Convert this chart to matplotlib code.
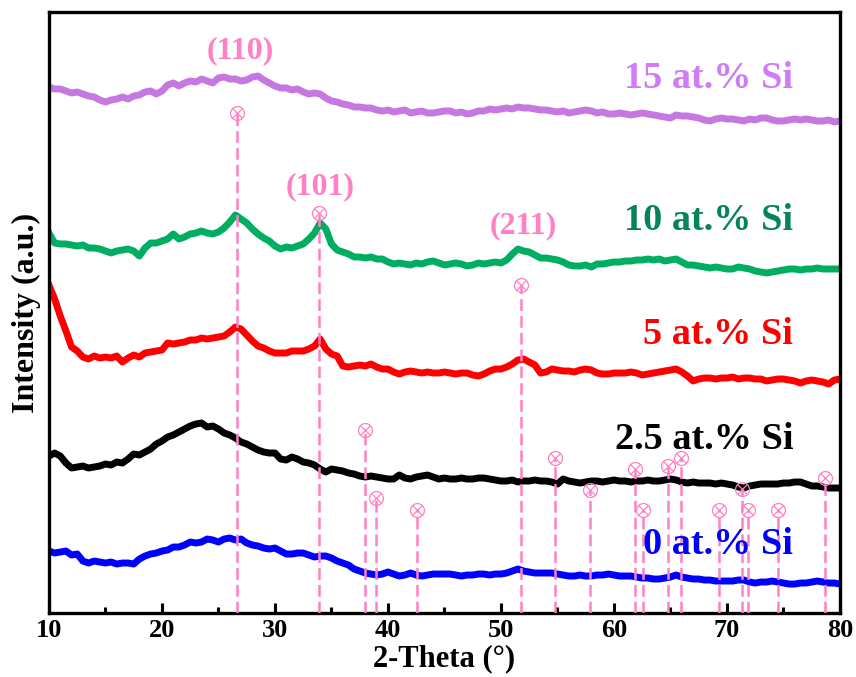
import numpy as np
import matplotlib
matplotlib.use("Agg")
from matplotlib import pyplot as plt

# 2-theta grid, 0.5 degree steps from 10 to 80
two_theta = np.arange(10, 80.001, 0.5)

# intensities (a.u.), stacked
si_15 = [526, 524, 524, 522, 520, 521, 519, 517, 516, 513,
         511, 513, 514, 516, 514, 517, 518, 521, 522, 519,
         522, 528, 530, 527, 530, 532, 531, 534, 532, 530,
         535, 536, 534, 534, 532, 533, 536, 537, 533, 530,
         527, 525, 525, 523, 524, 521, 519, 520, 519, 515,
         512, 511, 509, 508, 506, 506, 505, 505, 503, 502,
         503, 501, 502, 503, 500, 501, 502, 500, 500, 501,
         502, 502, 500, 501, 499, 500, 502, 502, 504, 503,
         504, 505, 504, 506, 505, 505, 504, 503, 503, 502,
         501, 502, 500, 501, 502, 503, 502, 500, 501, 499,
         499, 500, 499, 498, 499, 500, 499, 498, 497, 496,
         495, 498, 497, 497, 496, 495, 493, 492, 494, 495,
         494, 494, 493, 492, 494, 493, 495, 495, 493, 492,
         492, 493, 494, 493, 494, 493, 492, 492, 493, 491,
         492]
si_10 = [380, 370, 369, 369, 368, 367, 368, 365, 365, 364,
         362, 360, 362, 363, 364, 362, 357, 365, 370, 370,
         372, 374, 379, 374, 376, 379, 380, 382, 380, 379,
         381, 385, 391, 398, 394, 390, 384, 379, 375, 372,
         367, 364, 366, 365, 367, 369, 374, 380, 390, 384,
         369, 363, 361, 359, 356, 356, 355, 356, 354, 354,
         351, 349, 350, 349, 348, 350, 349, 351, 352, 350,
         348, 349, 350, 349, 347, 348, 350, 349, 350, 351,
         350, 353, 359, 364, 362, 361, 358, 355, 355, 354,
         353, 351, 348, 347, 347, 348, 346, 349, 349, 350,
         351, 351, 352, 352, 353, 353, 354, 353, 354, 352,
         353, 354, 351, 348, 348, 347, 346, 345, 346, 345,
         344, 344, 346, 345, 344, 342, 341, 340, 341, 342,
         343, 344, 344, 343, 344, 344, 345, 344, 344, 344,
         344]
si_5 = [328, 314, 297, 282, 266, 262, 256, 254, 257, 255,
        256, 255, 257, 251, 255, 258, 256, 260, 261, 262,
        263, 270, 269, 270, 271, 273, 273, 275, 274, 275,
        276, 277, 281, 286, 284, 278, 272, 267, 265, 262,
        260, 260, 260, 262, 262, 262, 264, 267, 274, 264,
        259, 257, 247, 246, 247, 248, 247, 249, 246, 244,
        244, 241, 239, 241, 242, 241, 240, 241, 240, 240,
        241, 240, 239, 240, 240, 238, 237, 239, 242, 244,
        244, 246, 249, 253, 254, 251, 248, 240, 241, 244,
        243, 242, 242, 241, 243, 244, 243, 240, 239, 239,
        240, 240, 240, 241, 240, 238, 239, 240, 241, 242,
        243, 244, 241, 237, 232, 234, 235, 235, 234, 235,
        235, 236, 234, 235, 235, 234, 234, 232, 233, 234,
        234, 233, 232, 230, 232, 233, 232, 231, 229, 233,
        234]
si_2_5 = [157, 160, 157, 150, 145, 146, 147, 145, 146, 147,
          149, 148, 151, 150, 154, 159, 158, 161, 164, 169,
          172, 176, 178, 181, 184, 187, 189, 190, 186, 187,
          184, 180, 178, 175, 171, 169, 166, 163, 161, 160,
          160, 154, 153, 156, 154, 151, 150, 148, 144, 141,
          144, 143, 142, 140, 139, 137, 136, 137, 136, 135,
          134, 134, 138, 135, 134, 136, 137, 138, 136, 134,
          135, 134, 134, 135, 134, 134, 135, 135, 134, 133,
          132, 132, 133, 131, 132, 132, 133, 132, 132, 131,
          129, 134, 132, 131, 130, 131, 132, 132, 131, 132,
          133, 132, 132, 131, 132, 132, 133, 132, 132, 133,
          134, 133, 131, 130, 131, 130, 130, 130, 129, 130,
          129, 128, 126, 125, 127, 128, 129, 129, 129, 129,
          130, 130, 131, 131, 129, 127, 127, 126, 125, 125,
          125]
si_0 = [62, 60, 61, 62, 58, 59, 52, 50, 52, 51,
        50, 51, 49, 50, 50, 49, 54, 57, 59, 60,
        62, 63, 66, 66, 68, 71, 70, 71, 74, 73,
        71, 74, 75, 73, 74, 70, 68, 67, 65, 64,
        65, 62, 59, 59, 60, 60, 58, 56, 57, 57,
        55, 52, 50, 48, 44, 42, 40, 39, 38, 39,
        41, 39, 37, 38, 40, 38, 37, 38, 39, 39,
        39, 39, 38, 37, 38, 38, 39, 39, 38, 39,
        39, 40, 42, 44, 42, 41, 40, 40, 40, 40,
        39, 38, 37, 37, 38, 37, 37, 38, 38, 39,
        38, 37, 37, 37, 36, 35, 35, 34, 34, 35,
        36, 38, 36, 35, 34, 34, 33, 33, 32, 32,
        32, 32, 33, 33, 31, 30, 31, 31, 32, 31,
        30, 29, 29, 30, 30, 31, 32, 31, 30, 30,
        29]

series = [si_15, si_10, si_5, si_2_5, si_0]
labels = ["15 at.% Si", "10 at.% Si", "5 at.% Si", "2.5 at.% Si", "0 at.% Si"]
label_y = [534, 392, 279, 174, 69]
line_colors = ["#C478E0", "#00AE62", "#FF0000", "#000000", "#0000FF"]
text_colors = ["#D07CF6", "#058556", "#FF0000", "#000000", "#0000FF"]

# reference peak positions and marker heights
ref_pos = [26.6, 33.9, 37.95, 38.97, 42.6, 51.8, 54.8, 57.85, 61.9, 62.6,
           64.75, 65.95, 69.25, 71.3, 71.85, 74.5, 78.7]
ref_top = [500, 400, 183, 115, 103, 328, 155, 123, 144, 103,
           147, 155, 103, 124, 103, 103, 135]
hkl = ["(110)", "(101)", "(211)"]
hkl_pos = [26.9, 34.0, 52.0]
hkl_y = [562, 426, 387]

pink = "#FF80C4"

plt.rcParams['font.family'] = ['Liberation Serif', 'DejaVu Serif']
plt.rcParams['font.weight'] = 'bold'
plt.rcParams['lines.scale_dashes'] = False

fig = plt.figure(figsize=(8.56, 6.77), dpi=100)
ax = fig.add_axes([0.0572, 0.0945, 0.9241, 0.8878])

for s, c in zip(series, line_colors):
    ax.plot(two_theta, s, color=c, lw=5, solid_joinstyle='round', zorder=2)

for p, t in zip(ref_pos, ref_top):
    ax.plot([p, p], [0, t], color=pink, lw=1.8, dashes=(8.5, 3.6), zorder=3)
ax.plot(ref_pos, ref_top, 'o', ms=10, mfc='none', mec=pink, mew=0.9, zorder=4)
ax.plot(ref_pos, ref_top, 'x', ms=7, mec=pink, mew=0.9, zorder=4)

for h, p, y in zip(hkl, hkl_pos, hkl_y):
    ax.text(p, y, h, color=pink, fontsize=23, fontweight='bold',
            ha='center', va='center')

for lab, y, c in zip(labels, label_y, text_colors):
    ax.text(75.85, y, lab, color=c, fontsize=27.5, fontweight='bold',
            ha='right', va='center')

ax.set_xlim(10, 80)
ax.set_ylim(0, 601)
ax.set_xticks(range(10, 81, 10))
ax.set_xticks(range(15, 80, 10), minor=True)
ax.set_yticks([])
ax.tick_params(axis='x', which='major', direction='in', length=7, width=2.2,
               labelsize=19, pad=4)
ax.tick_params(axis='x', which='minor', direction='in', length=4, width=2.2)
for sp in ax.spines.values():
    sp.set_linewidth(2.4)

ax.set_xlabel('2-Theta (°)', fontsize=22, fontweight='bold', labelpad=2)
ax.set_ylabel('Intensity (a.u.)', fontsize=23, fontweight='bold', labelpad=6)

fig.savefig('out.png', dpi=100)
